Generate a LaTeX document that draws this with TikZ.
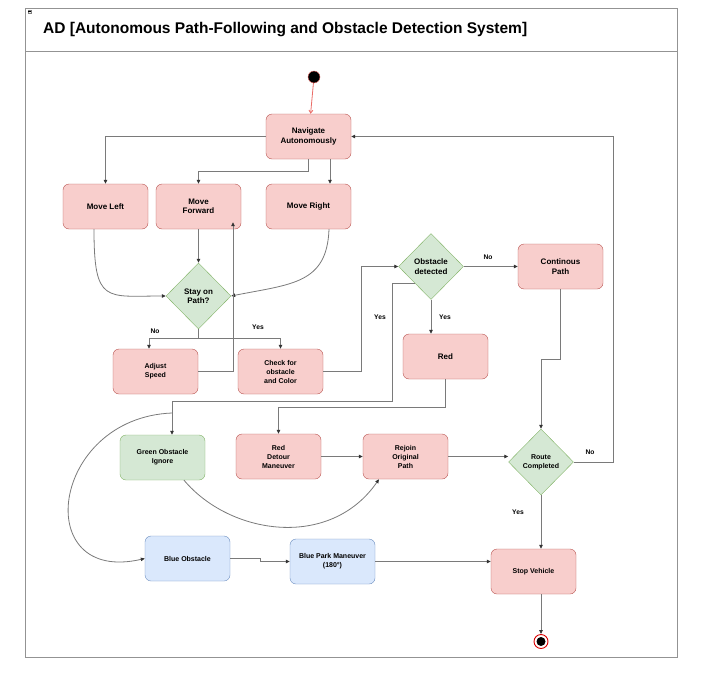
\documentclass[tikz,border=0pt]{standalone}
\usepackage{fontspec}
\setmainfont{Liberation Sans}
\usetikzlibrary{shapes.geometric,arrows.meta,calc}
\definecolor{rfill}{HTML}{F8CECC}
\definecolor{rline}{HTML}{B85450}
\definecolor{gfill}{HTML}{D5E8D4}
\definecolor{gline}{HTML}{82B366}
\definecolor{bfill}{HTML}{DAE8FC}
\definecolor{bline}{HTML}{6C8EBF}
\definecolor{edgec}{HTML}{7A7A7A}
\definecolor{startc}{HTML}{EA6B66}
\begin{document}
\begin{tikzpicture}[x=1pt,y=-1pt,
  box/.style={rectangle,rounded corners=6pt,minimum width=85pt,minimum height=45pt,inner sep=1pt,align=center,font=\fontsize{8}{9.5}\selectfont\bfseries},
  sbox/.style={box,font=\fontsize{7}{9}\selectfont\bfseries},
  redbox/.style={box,fill=rfill,draw=rline},
  sredbox/.style={sbox,fill=rfill,draw=rline},
  sgreenbox/.style={sbox,fill=gfill,draw=gline},
  sbluebox/.style={sbox,fill=bfill,draw=bline},
  dec/.style={diamond,aspect=1,minimum width=65pt,minimum height=66pt,inner sep=0pt,fill=gfill,draw=gline,align=center,font=\fontsize{8}{9.5}\selectfont\bfseries},
  sdec/.style={dec,font=\fontsize{7}{9}\selectfont\bfseries},
  flow/.style={draw=edgec,line width=0.8pt,-{Triangle[length=4pt,width=3.5pt,fill=black!80,color=black!80]}},
  lbl/.style={font=\fontsize{6.7}{8}\selectfont\bfseries,inner sep=0pt}]
\useasboundingbox (0,0) rectangle (720,680);
% frame
\draw[draw=gray!85,line width=1.1pt] (25.5,8.7) rectangle (677.5,657.3);
\draw[draw=gray!85,line width=1.1pt] (25.5,51.5) -- (677.5,51.5);
\node[draw=gray,fill=gray!15,minimum size=3.5pt,inner sep=0pt,line width=0.4pt] (icon) at (29.5,11.5) {};
\draw[line width=0.4pt] (28.4,11.5) -- (30.6,11.5);
\node[anchor=west,inner sep=0pt,font=\fontsize{15.5}{18}\selectfont\bfseries] (title) at (43,30) {AD [Autonomous Path-Following and Obstacle Detection System]};
% nodes
\node[circle,fill=black,draw=startc,minimum size=12pt,inner sep=0pt] (start) at (314,77) {};
\node[redbox] (nav) at (308.5,136.5) {Navigate\\Autonomously};
\node[redbox] (ml) at (105.5,206.5) {Move Left};
\node[redbox] (mf) at (198.5,206.5) {Move\\Forward};
\node[redbox] (mr) at (308.5,206.5) {Move Right};
\node[dec] (stay) at (198.5,296) {Stay on\\Path?};
\node[sredbox] (adj) at (155.5,371.5) {Adjust\\Speed};
\node[sredbox] (chk) at (280.5,371.5) {Check for\\obstacle\\and Color};
\node[dec] (obs) at (431,266.5) {Obstacle\\detected};
\node[redbox] (cont) at (560.5,266.5) {Continous\\Path};
\node[redbox] (red) at (445.5,356.5) {Red};
\node[sgreenbox] (green) at (162.5,457.5) {Green Obstacle\\Ignore};
\node[sredbox] (detour) at (278.5,456.5) {Red\\Detour\\Maneuver};
\node[sredbox] (rejoin) at (405.5,456.5) {Rejoin\\Original\\Path};
\node[sdec] (route) at (541,462) {Route\\Completed};
\node[sbluebox] (blue) at (187.5,558.5) {Blue Obstacle};
\node[sbluebox] (park) at (332.5,561.5) {Blue Park Maneuver\\(180\textdegree)};
\node[sredbox] (stop) at (533.5,571.5) {Stop Vehicle};
\node[circle,draw=red!85!black,fill=white,line width=0.9pt,minimum size=14pt,inner sep=0pt] (endc) at (541,641.5) {};
\node[circle,fill=black,minimum size=9pt,inner sep=0pt] (endin) at (endc) {};
% connectors
\draw[flow,draw=startc,-{Straight Barb[length=3pt,width=4pt,color=startc]}] (start) -- (nav);
\draw[flow] (nav.west) -| (ml.north);
\draw[flow] (nav.south) -- ++(0,12.5) -| (mf.north);
\draw[flow] ([xshift=21.5pt]nav.south) -- ([xshift=21.5pt]mr.north);
\draw[flow] ([xshift=-11.5pt]ml.south) .. controls +(0,75) and +(-60,0) .. (stay.west);
\draw[flow] (mf.south) -- (stay.north);
\draw[flow] ([xshift=20.5pt]mr.south) .. controls +(-2,55) and +(60,-12) .. (stay.east);
\draw[flow] (stay.south) -- ++(0,9) -| ([xshift=-6.5pt]adj.north);
\draw[flow] (stay.south) -- ++(0,9) -| (chk.north);
\node[lbl] (lno1) at (155,331.5) {No};
\node[lbl] (lyes1) at (258,327) {Yes};
\draw[flow] (adj.east) -| ([xshift=34.5pt,yshift=7pt]mf.south);
\draw[flow] (chk.east) -- ++(38,0) |- (obs.west);
\draw[flow] (obs.east) -- (cont.west);
\node[lbl] (lno2) at (488,257) {No};
\draw[flow] (obs.south) -- (obs.south |- red.north);
\node[lbl] (lyes2) at (445,317) {Yes};
\coordinate (g1) at (392,401);
\draw[flow] (obs.south west) -| (g1) -| ([xshift=9.5pt]green.north);
\node[lbl] (lyes3) at (380,317) {Yes};
\coordinate (g2) at (172,413);
\draw[flow] (g2) .. controls (50,418) and (30,585) .. (blue.west);
\draw[flow] (red.south) -- ++(0,28) -| (detour.north);
\draw[flow] (detour.east) -- (rejoin.west);
\draw[flow] ([xshift=21.5pt]green.south) .. controls (230,535) and (330,550) .. ([xshift=-26.5pt]rejoin.south);
\draw[flow] (rejoin.east) -- (rejoin.east -| route.west);
\draw[flow] (cont.south) -- ++(0,70) -| (route.north);
\draw[flow] (route.east) -- ++(40,0) |- (nav.east);
\node[lbl] (lno3) at (590,452) {No};
\draw[flow] (route.south) -- (route.south |- stop.north);
\node[lbl] (lyes4) at (518,512) {Yes};
\draw[flow] (blue.east) -- ++(30,0) |- (park.west);
\draw[flow] (park.east) -- (park.east -| stop.west);
\draw[flow] (stop.south -| endc) -- (endc.north);
\end{tikzpicture}
\end{document}
